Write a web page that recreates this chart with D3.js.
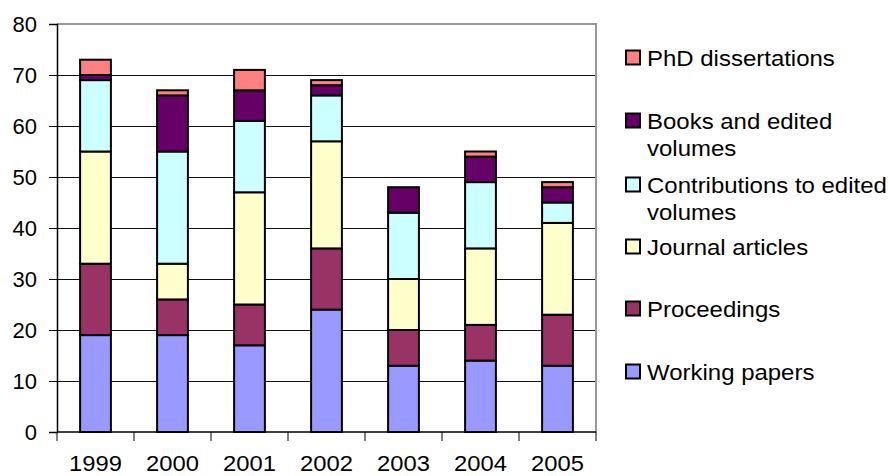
<!DOCTYPE html>
<html lang="en">
  <head>
    <meta charset="utf-8" />
    <title>Publications per year</title>
    <script src="https://d3js.org/d3.v7.min.js"></script>
    <style type="text/css">
      body { margin: 0; background: #fff; }
      svg text { font-family: 'Liberation Sans', Arial, sans-serif; fill: #000; }
    </style>
  </head>
  <body>
    <script type="text/javascript">
      // data
      const years = ['1999', '2000', '2001', '2002', '2003', '2004', '2005'];
      const workingPapers = [19, 19, 17, 24, 13, 14, 13];
      const proceedings = [14, 7, 8, 12, 7, 7, 10];
      const journalArticles = [22, 7, 22, 21, 10, 15, 18];
      const contributions = [14, 22, 14, 9, 13, 13, 4];
      const books = [1, 11, 6, 2, 5, 5, 3];
      const phd = [3, 1, 4, 1, 0, 1, 1];
      const yTicks = [0, 10, 20, 30, 40, 50, 60, 70, 80];

      // bottom to top
      const seriesNames = [
        'Working papers',
        'Proceedings',
        'Journal articles',
        'Contributions to edited volumes',
        'Books and edited volumes',
        'PhD dissertations',
      ];
      const seriesValues = [workingPapers, proceedings, journalArticles, contributions, books, phd];
      const colours = ['#9999ff', '#993366', '#ffffcc', '#ccffff', '#660066', '#ff8080'];

      const w = 888;
      const h = 476;
      const plotLeft = 57;
      const plotRight = 596;
      const plotTop = 24;
      const plotBottom = 432;

      const rows = years.map((y, i) => {
        const r = { year: y };
        seriesNames.forEach((s, k) => (r[s] = seriesValues[k][i]));
        return r;
      });
      const stack = d3.stack().keys(seriesNames);
      const series = stack(rows);

      const xScale = d3.scaleBand().domain(years).range([plotLeft, plotRight]).paddingInner(0.6).paddingOuter(0.3);
      const band = d3.scaleBand().domain(years).range([plotLeft, plotRight]);
      const yScale = d3.scaleLinear().domain([0, 80]).range([plotBottom, plotTop]);
      const colour = d3.scaleOrdinal().domain(seriesNames).range(colours);

      const svg = d3.select('body').append('svg').attr('width', w).attr('height', h);

      // gridlines
      svg
        .append('g')
        .selectAll('line')
        .data(yTicks.filter(t => t > 0 && t < 80))
        .enter()
        .append('line')
        .attr('x1', plotLeft)
        .attr('x2', plotRight)
        .attr('y1', d => Math.round(yScale(d)) + 0.5)
        .attr('y2', d => Math.round(yScale(d)) + 0.5)
        .attr('stroke', '#111')
        .attr('stroke-width', 1);

      // plot frame top/right
      svg
        .append('path')
        .attr('d', `M${plotLeft},${plotTop}H${plotRight}V${plotBottom}`)
        .attr('fill', 'none')
        .attr('stroke', '#999')
        .attr('stroke-width', 2);

      // bars
      const groups = svg
        .selectAll('g.series')
        .data(series)
        .enter()
        .append('g')
        .attr('class', 'series')
        .attr('fill', d => colour(d.key));

      groups
        .selectAll('rect')
        .data(d => d.filter(p => p[1] - p[0] > 0))
        .enter()
        .append('rect')
        .attr('x', d => xScale(d.data.year))
        .attr('y', d => yScale(d[1]))
        .attr('width', xScale.bandwidth())
        .attr('height', d => yScale(d[0]) - yScale(d[1]))
        .attr('stroke', '#000')
        .attr('stroke-width', 2);

      // y axis
      const yAxis = d3.axisLeft(yScale).tickValues(yTicks).tickSize(8).tickPadding(12);
      const gy = svg.append('g').attr('transform', `translate(${plotLeft},0)`).call(yAxis);
      gy.select('.domain').attr('stroke', '#000').attr('stroke-width', 1.5);
      gy.selectAll('.tick line').attr('stroke', '#000');
      gy.selectAll('text').style('font-size', '22px');

      // x axis, ticks between categories
      const gx = svg.append('g').attr('transform', `translate(0,${plotBottom})`);
      gx.append('line').attr('x1', plotLeft).attr('x2', plotRight).attr('stroke', '#000').attr('stroke-width', 1.5);
      gx
        .selectAll('line.tk')
        .data(years.concat(['end']))
        .enter()
        .append('line')
        .attr('class', 'tk')
        .attr('x1', (d, i) => plotLeft + i * band.bandwidth())
        .attr('x2', (d, i) => plotLeft + i * band.bandwidth())
        .attr('y1', 0)
        .attr('y2', 9)
        .attr('stroke', '#000');
      gx
        .selectAll('text')
        .data(years)
        .enter()
        .append('text')
        .attr('transform', d => `translate(${band(d) + band.bandwidth() / 2},39) scale(1.08,1)`)
        .style('text-anchor', 'middle')
        .style('font-size', '22px')
        .text(d => d);

      // legend, top item = last series
      const legendItems = [
        { name: 'PhD dissertations', lines: ['PhD dissertations'], y: 58 },
        { name: 'Books and edited volumes', lines: ['Books and edited', 'volumes'], y: 121 },
        { name: 'Contributions to edited volumes', lines: ['Contributions to edited', 'volumes'], y: 185 },
        { name: 'Journal articles', lines: ['Journal articles'], y: 247 },
        { name: 'Proceedings', lines: ['Proceedings'], y: 309 },
        { name: 'Working papers', lines: ['Working papers'], y: 372 },
      ];
      const leg = svg
        .selectAll('g.legend')
        .data(legendItems)
        .enter()
        .append('g')
        .attr('class', 'legend')
        .attr('transform', d => `translate(626,${d.y})`);
      leg
        .append('rect')
        .attr('x', 0)
        .attr('y', -7.5)
        .attr('width', 14)
        .attr('height', 14)
        .attr('fill', d => colour(d.name))
        .attr('stroke', '#000')
        .attr('stroke-width', 2);
      leg
        .append('text')
        .attr('transform', 'translate(21,8) scale(1.09,1)')
        .style('font-size', '22px')
        .selectAll('tspan')
        .data(d => d.lines)
        .enter()
        .append('tspan')
        .attr('x', 0)
        .attr('dy', (d, i) => (i === 0 ? 0 : 27))
        .text(d => d);
    </script>
  </body>
</html>
